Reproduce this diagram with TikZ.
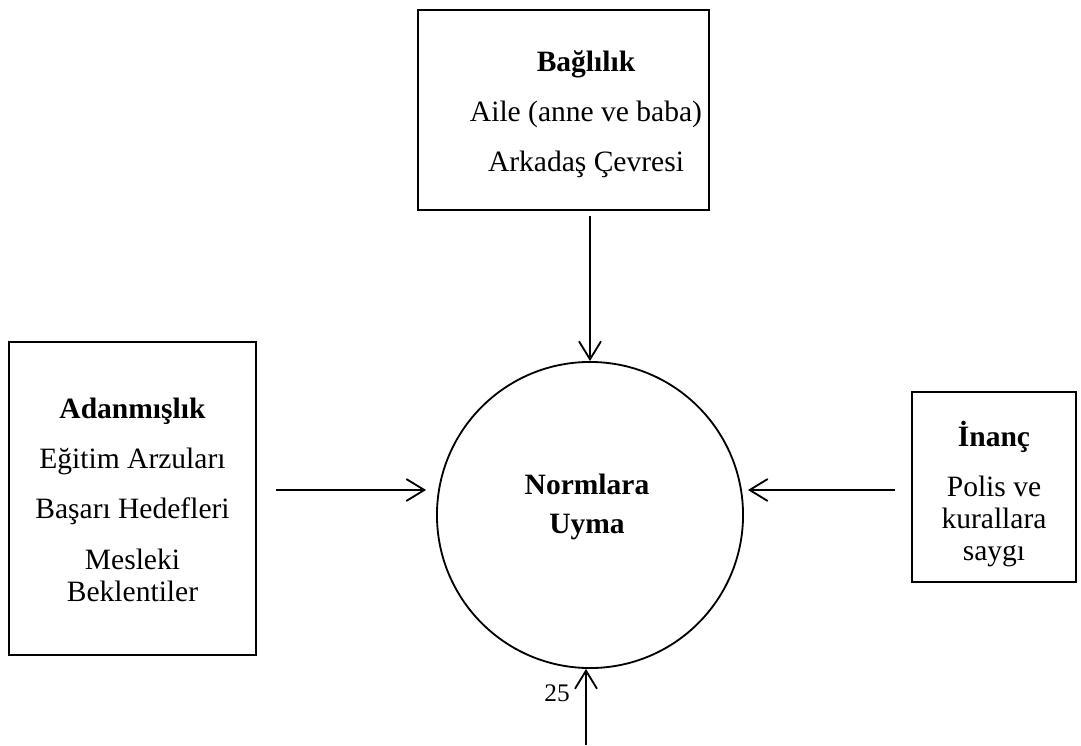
\documentclass[tikz,border=0pt]{standalone}
\usepackage{fontspec}
\setmainfont{Liberation Serif}
\usetikzlibrary{arrows.meta}

\begin{document}
\begin{tikzpicture}[
            x=0.025cm, y=-0.025cm, % one unit is one pixel of the page
            box/.style={rectangle, draw, line width=1.3pt}, % Frames
            boxtext/.style={align=center, font=\fontsize{21}{23}\selectfont}, % Text inside the frames
            flow/.style={-{Straight Barb[length=0.45cm,width=0.55cm]}, line width=1.3pt} % Open arrows
            ]
        \useasboundingbox (0,0) rectangle (1081,745);

                % Central circle
                \node[circle, draw, line width=1.3pt, minimum size=7.65cm] (norm) at (590,515) {};
                \node[boxtext, font=\fontsize{21}{28}\selectfont\bfseries] (normtxt) at (587,507) {Normlara\\Uyma};

                % Boxes round it
                \node[box, minimum width=7.275cm, minimum height=5cm] (bag) at (563.5,110) {};
                \node[boxtext] (bagtxt) at (586,114)
                    {\textbf{Bağlılık}\\[12.6pt] Aile (anne ve baba)\\[12.6pt] Arkadaş Çevresi};
                \node[box, minimum width=6.175cm, minimum height=7.825cm] (adan) at (132.5,498.5) {};
                \node[boxtext] (adantxt) at (132.5,500)
                    {\textbf{Adanmışlık}\\[12.6pt] Eğitim Arzuları\\[12.6pt] Başarı Hedefleri\\[12.6pt] Mesleki\\Beklentiler};
                \node[box, minimum width=4.1cm, minimum height=4.75cm] (inanc) at (994,487) {};
                \node[boxtext] (inanctxt) at (994,494)
                    {\textbf{İnanç}\\[12.6pt] Polis ve\\kurallara\\saygı};

                % Arrows into the circle
                \coordinate (row) at (0,490);
                \coordinate (base) at (586,745);
                \draw[flow, shorten <=0.125cm] (norm.north |- bag.south) -- (norm.north);
                \draw[flow, shorten <=0.475cm, shorten >=0.25cm] (adan.east |- row) -- (norm.west |- row);
                \draw[flow, shorten <=0.4cm, shorten >=0.1cm] (inanc.west |- row) -- (norm.east |- row);
                \draw[flow] (base) -- (base |- norm.south);
                \node[font=\fontsize{18}{20}\selectfont] (num) at (557,693) {25};

            \end{tikzpicture}
\end{document}
